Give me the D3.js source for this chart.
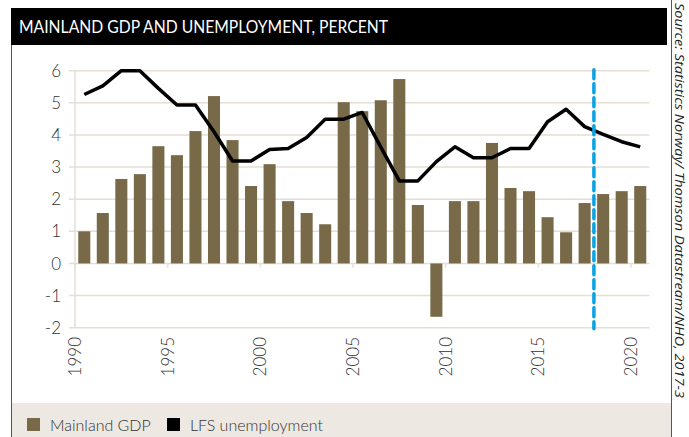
<!DOCTYPE html>
<html>
<head>
<meta charset="utf-8">
<script src="https://cdn.jsdelivr.net/npm/d3@7"></script>
<style>
  body { margin: 0; background: #fff; }
  svg { display: block; font-family: Lato, "Open Sans", sans-serif; }
  .tick-label { fill: #333; font-size: 17px; font-weight: 300; }
</style>
</head>
<body>
<svg id="chart"></svg>
<script>
// Data
const years = d3.range(1990, 2021);
const gdpValues = [1.0, 1.57, 2.63, 2.78, 3.65, 3.37, 4.12, 5.21, 3.84, 2.41,
  3.09, 1.94, 1.57, 1.22, 5.02, 4.74, 5.08, 5.74, 1.82, -1.66,
  1.94, 1.94, 3.75, 2.35, 2.25, 1.44, 0.97, 1.88, 2.16, 2.25, 2.41];
const unemploymentValues = [5.26, 5.53, 6.0, 6.0, 5.45, 4.93, 4.93, 4.1, 3.19, 3.19,
  3.55, 3.58, 3.92, 4.49, 4.49, 4.7, 3.62, 2.57, 2.57, 3.17,
  3.63, 3.29, 3.29, 3.58, 3.58, 4.41, 4.8, 4.26, 4.02, 3.79, 3.63];
const yTicks = [-2, -1, 0, 1, 2, 3, 4, 5, 6];
const xTickYears = [1990, 1995, 2000, 2005, 2010, 2015, 2020];
const forecastYear = 2018;
const seriesNames = ['Mainland GDP', 'LFS unemployment'];

const width = 689, height = 437;
const colors = { gdp: '#786a48', line: '#000', grid: '#e4ded4', forecast: '#0aa2e2' };

const svg = d3.select('#chart')
    .attr('width', width)
    .attr('height', height);

// Frame and title bar
svg.append('rect')
    .attr('x', 11).attr('y', 8)
    .attr('width', 656).attr('height', 37)
    .attr('fill', '#000');

svg.append('text')
    .attr('x', 19).attr('y', 33)
    .attr('fill', '#fff')
    .attr('font-size', 17)
    .attr('textLength', 369)
    .attr('lengthAdjust', 'spacingAndGlyphs')
    .text('MAINLAND GDP AND UNEMPLOYMENT, PERCENT');

svg.append('line')
    .attr('x1', 11.5).attr('x2', 11.5)
    .attr('y1', 45).attr('y2', height)
    .attr('stroke', '#555');
svg.append('line')
    .attr('x1', 671.5).attr('x2', 671.5)
    .attr('y1', 0).attr('y2', height)
    .attr('stroke', '#555');

// Legend strip
svg.append('rect')
    .attr('x', 12).attr('y', 403)
    .attr('width', 659).attr('height', height - 403)
    .attr('fill', '#ede8e1');

// Scales
const x = d3.scaleBand()
    .domain(years)
    .range([75, 649.5])
    .paddingInner(0.35)
    .paddingOuter(0.175);

const y = d3.scaleLinear()
    .domain([-2, 6])
    .range([327.7, 70.7]);

const bandStart = yr => x(yr) + x.bandwidth() / 2 - x.step() / 2;
const bandMid = yr => x(yr) + x.bandwidth() / 2;

// Grid lines
svg.append('g')
  .selectAll('line')
    .data(yTicks)
  .join('line')
    .attr('x1', 69).attr('x2', 649.5)
    .attr('y1', d => y(d)).attr('y2', d => y(d))
    .attr('stroke', colors.grid)
    .attr('stroke-width', 1.5);

svg.append('line')
    .attr('x1', 75).attr('x2', 75)
    .attr('y1', y(6)).attr('y2', y(-2))
    .attr('stroke', colors.grid)
    .attr('stroke-width', 1.5);

// Y labels
svg.append('g')
  .selectAll('text')
    .data(yTicks)
  .join('text')
    .attr('class', 'tick-label')
    .attr('x', 61)
    .attr('y', d => y(d))
    .attr('dy', '0.36em')
    .attr('text-anchor', 'end')
    .text(d => d);

// Bars
svg.append('g')
  .selectAll('rect')
    .data(years.map((yr, i) => ({ year: yr, value: gdpValues[i] })))
  .join('rect')
    .attr('x', d => x(d.year))
    .attr('width', x.bandwidth())
    .attr('y', d => y(Math.max(0, d.value)))
    .attr('height', d => Math.abs(y(d.value) - y(0)))
    .attr('fill', colors.gdp);

// X ticks on zero line and labels
svg.append('g')
  .selectAll('line')
    .data(xTickYears)
  .join('line')
    .attr('x1', d => bandStart(d)).attr('x2', d => bandStart(d))
    .attr('y1', y(0)).attr('y2', y(0) + 4)
    .attr('stroke', colors.grid)
    .attr('stroke-width', 1.5);

svg.append('g')
  .selectAll('text')
    .data(xTickYears)
  .join('text')
    .attr('class', 'tick-label')
    .attr('transform', d => `translate(${bandStart(d)},337) rotate(-90)`)
    .attr('text-anchor', 'end')
    .attr('dy', '0.36em')
    .text(d => d);

// Unemployment line
const line = d3.line()
    .x((d, i) => bandMid(years[i]))
    .y(d => y(d));

svg.append('path')
    .datum(unemploymentValues)
    .attr('d', line)
    .attr('fill', 'none')
    .attr('stroke', colors.line)
    .attr('stroke-width', 3.5)
    .attr('stroke-linejoin', 'round');

// Forecast divider
svg.append('line')
    .attr('x1', bandStart(forecastYear)).attr('x2', bandStart(forecastYear))
    .attr('y1', y(6) - 1).attr('y2', y(-2) + 1)
    .attr('stroke', colors.forecast)
    .attr('stroke-width', 3.5)
    .attr('stroke-dasharray', '9,5')
    .attr('stroke-linecap', 'round');

// Legend
const legend = svg.append('g').attr('transform', 'translate(27,418)');
const legendItems = [
  { name: seriesNames[0], color: colors.gdp, x: 0 },
  { name: seriesNames[1], color: colors.line, x: 140 }
];
legend.selectAll('rect')
    .data(legendItems)
  .join('rect')
    .attr('x', d => d.x)
    .attr('width', 13).attr('height', 13)
    .attr('fill', d => d.color);
legend.selectAll('text')
    .data(legendItems)
  .join('text')
    .attr('x', d => d.x + 23)
    .attr('y', 13)
    .attr('fill', '#333')
    .attr('font-size', 16)
    .attr('font-weight', 300)
    .text(d => d.name);

// Source note, rotated along the right edge
svg.append('text')
    .attr('transform', 'translate(675,3) rotate(90)')
    .attr('fill', '#222')
    .attr('font-size', 13)
    .attr('font-style', 'italic')
    .attr('font-family', '"Open Sans", sans-serif')
    .attr('textLength', 395)
    .attr('lengthAdjust', 'spacingAndGlyphs')
    .text('Source: Statistics Norway/ Thomson Datastream/NHO, 2017-3');
</script>
</body>
</html>
